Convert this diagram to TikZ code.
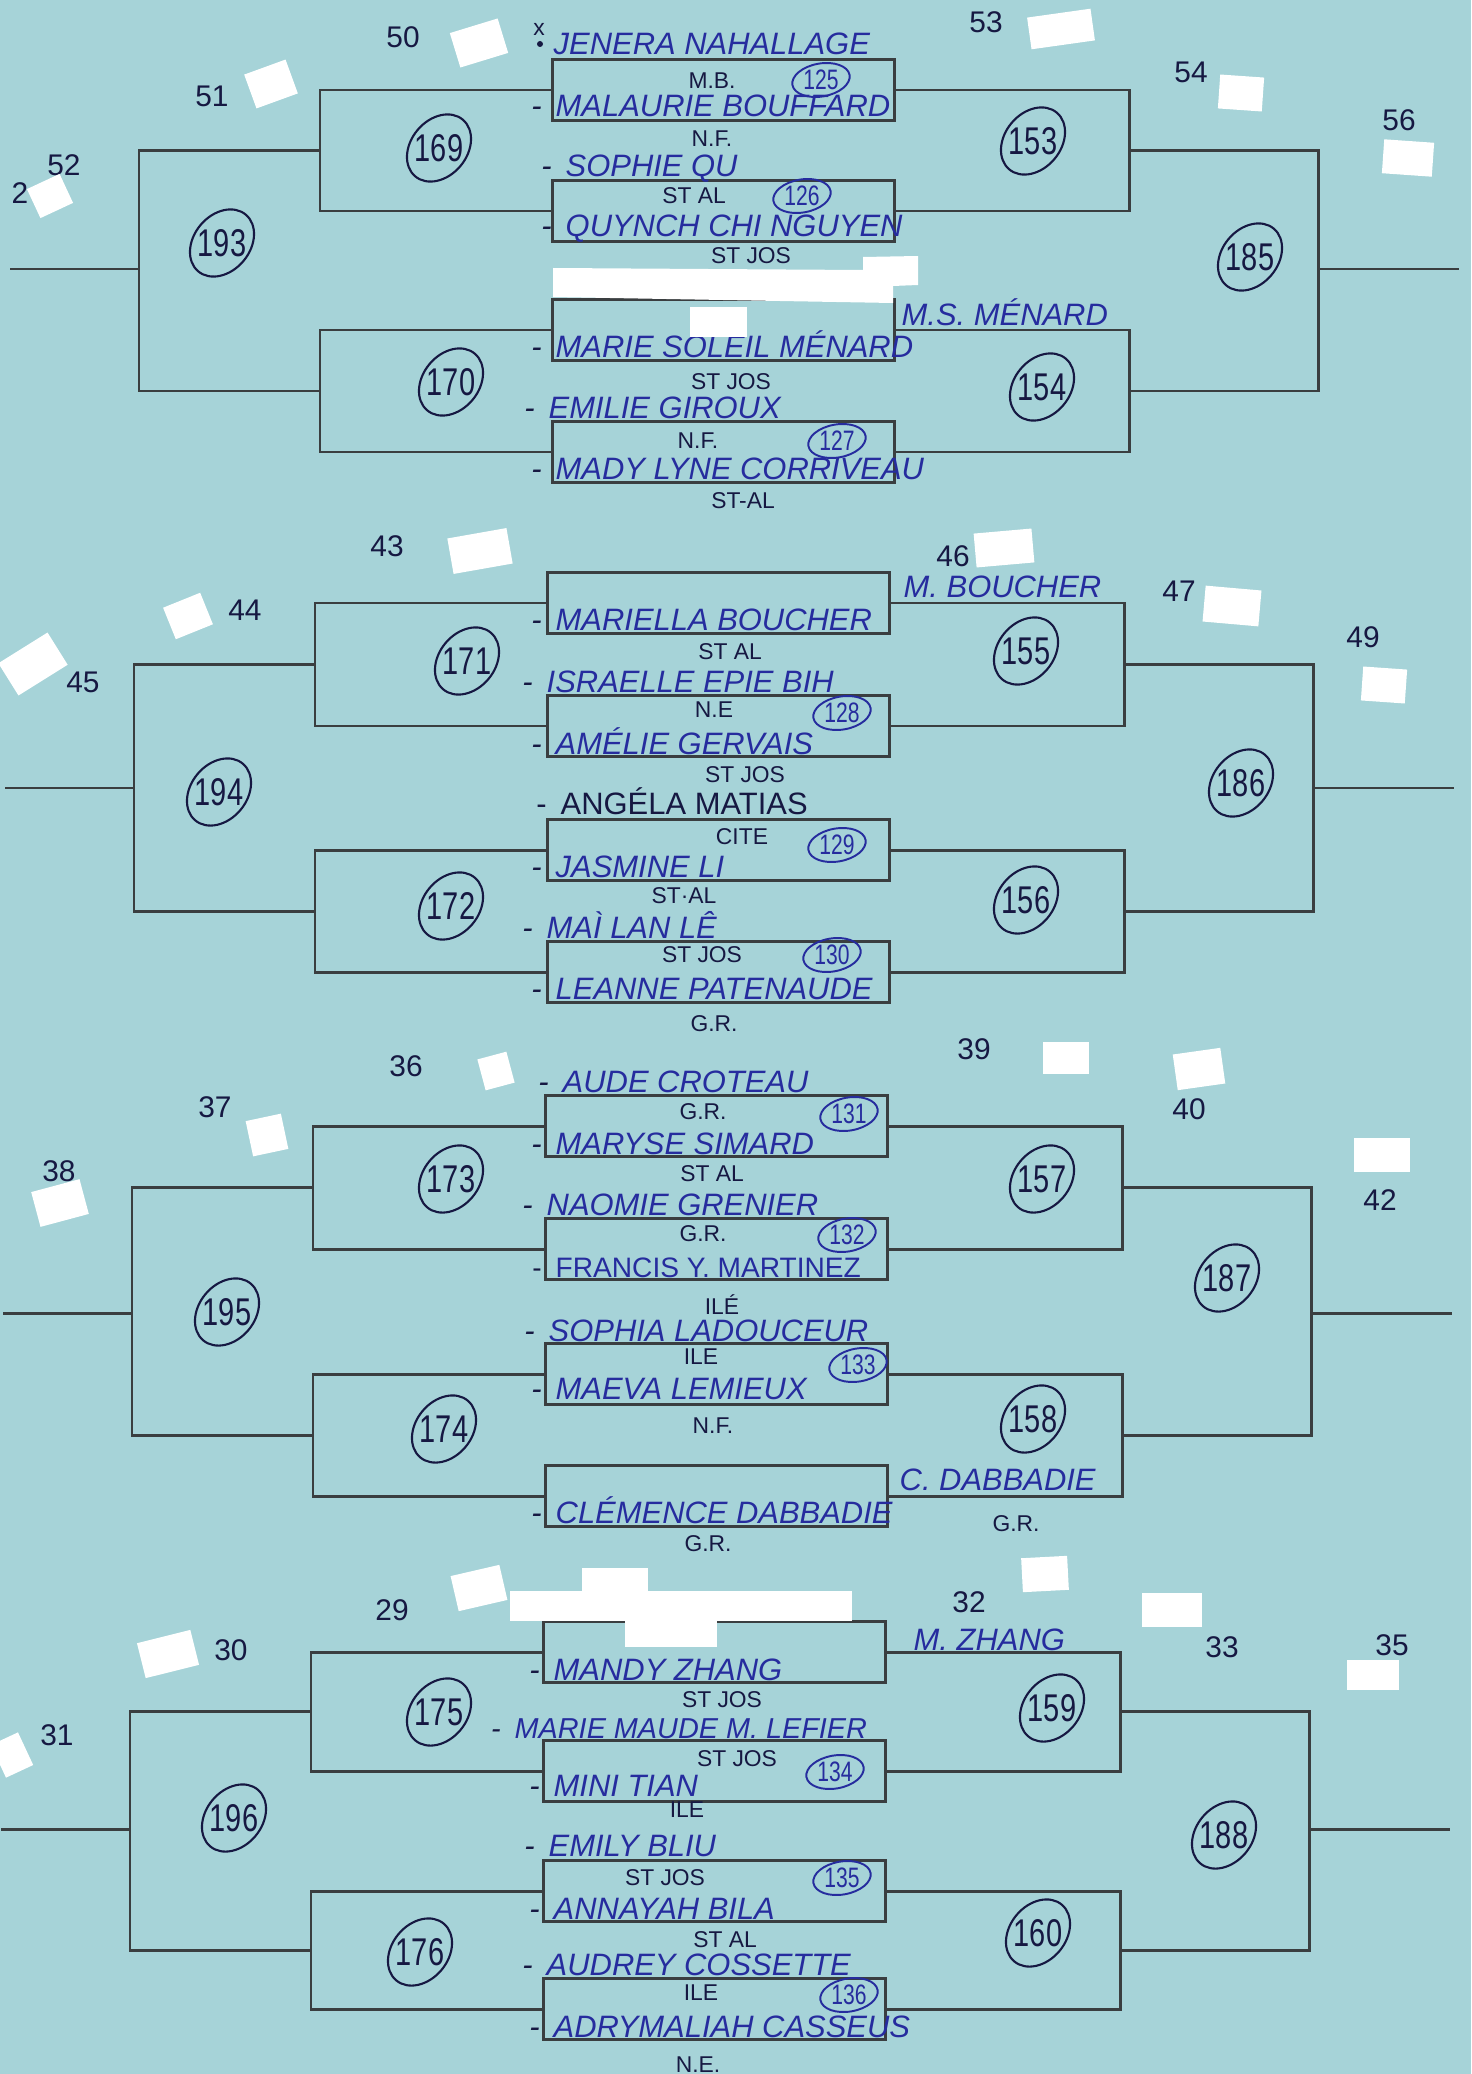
\documentclass[tikz,border=0pt]{standalone}
\usepackage{fontspec}
\usepackage{tikz}
\usetikzlibrary{shapes.geometric}
\newfontfamily\hand{Liberation Sans}
\newfontfamily\numfont[FakeStretch=0.75]{Liberation Sans}
\newcommand{\plfont}{\hand\fontsize{8.8}{9}\selectfont}
\definecolor{paper}{RGB}{166,211,216}
\definecolor{rulegray}{RGB}{58,62,64}
\definecolor{inkblue}{RGB}{38,44,158}
\definecolor{inkdark}{RGB}{22,24,66}

\begin{document}
\begin{tikzpicture}[x=0.1mm,y=-0.1mm,
  rule/.style={draw=rulegray,line width=0.85pt},
  matchbox/.style={rule,rectangle,minimum width=34.2mm,minimum height=6.1mm,inner sep=0pt},
  player/.style={anchor=base west,inner sep=0pt,text=inkblue,font=\plfont\itshape},
  entry/.style={player,execute at begin node={\llap{\textcolor{inkdark}{-}\hspace{1.4mm}}}},
  club/.style={inner sep=0pt,text=inkdark,font=\hand\fontsize{6.5}{6.5}\selectfont},
  seed/.style={inner sep=0pt,text=inkdark,font=\hand\fontsize{8.5}{8.5}\selectfont},
  bigc/.style={ellipse,draw=inkdark,line width=0.6pt,minimum width=7.4mm,minimum height=5.6mm,
    inner sep=0pt,rotate=50,label={[text=inkdark,font=\numfont\fontsize{11}{11}\selectfont]center:#1}},
  smallc/.style={ellipse,draw=inkblue,line width=0.55pt,minimum width=5.8mm,minimum height=3.3mm,
    inner sep=0pt,rotate=10,label={[text=inkblue,font=\numfont\fontsize{8}{8}\selectfont]center:#1}},
  patch/.style={fill=white,inner sep=0pt}]

  % paper
  \fill[paper] (0,0) rectangle (1471,2074);
  \useasboundingbox (0,0) rectangle (1471,2074);

  % brackets, four blocks
  \foreach \k/\dx/\ya/\yb/\yc/\yd/\ym in {1/0/90/211/330/452/269,
      2/-5/603/726/850/972/788, 3/-7/1126/1249/1374/1496/1313,
      4/-9/1652/1771/1891/2009/1829}{
    \foreach \j/\yy in {1/\ya,2/\yb,3/\yc,4/\yd}
      \node[matchbox] (m\k-\j) at ({723+\dx},\yy) {};
    \coordinate (la\k) at ({320+\dx},{(\ya+\yb)/2});
    \coordinate (lb\k) at ({320+\dx},{(\yc+\yd)/2});
    \coordinate (lc\k) at ({139+\dx},\ym);
    \coordinate (le\k) at ({10+\dx},\ym);
    \coordinate (ra\k) at ({1129+\dx},{(\ya+\yb)/2});
    \coordinate (rb\k) at ({1129+\dx},{(\yc+\yd)/2});
    \coordinate (rc\k) at ({1318+\dx},\ym);
    \coordinate (re\k) at ({1459+\dx},\ym);
    \draw[rule] (m\k-1.west) -| (la\k) |- (m\k-2.west);
    \draw[rule] (m\k-3.west) -| (lb\k) |- (m\k-4.west);
    \draw[rule] (la\k) -| (lc\k) |- (lb\k);
    \draw[rule] (lc\k) -- (le\k);
    \draw[rule] (m\k-1.east) -| (ra\k) |- (m\k-2.east);
    \draw[rule] (m\k-3.east) -| (rb\k) |- (m\k-4.east);
    \draw[rule] (ra\k) -| (rc\k) |- (rb\k);
    \draw[rule] (rc\k) -- (re\k);
  }

  % seed numbers
  \foreach \s/\x/\y in {50/403/37, 51/212/96, 52/64/165, 2/20/193, 53/986/22,
      54/1191/72, 56/1399/120, 43/387/546, 44/245/610, 45/83/682, 46/953/556,
      47/1179/591, 49/1363/637, 36/406/1066, 37/215/1107, 38/59/1171,
      39/974/1049, 40/1189/1109, 42/1380/1200, 29/392/1610, 30/231/1650,
      31/57/1735, 32/969/1602, 33/1222/1647, 35/1392/1645}
    \node[seed] (s\s) at (\x,\y) {\s};

  % players, block 1
  \node[club] (xmk) at (539,29) {x};
  \fill[inkdark] (540,44) circle (3);
  \node[player] (p1) at (553,55) {JENERA NAHALLAGE};
  \node[entry] (p2) at (555,117) {MALAURIE BOUFFARD};
  \node[entry] (p3) at (565,177) {SOPHIE QU};
  \node[entry] (p4) at (565,237) {QUYNCH CHI NGUYEN};
  \node[entry] (p5) at (555,358) {MARIE SOLEIL MÉNARD};
  \node[entry] (p6) at (548,419) {EMILIE GIROUX};
  \node[entry] (p7) at (555,479) {MADY LYNE CORRIVEAU};
  \node[player] (w1) at (901,326) {M.S. MÉNARD};
  % players, block 2
  \node[entry] (p8) at (555,630) {MARIELLA BOUCHER};
  \node[entry] (p9) at (546,692) {ISRAELLE EPIE BIH};
  \node[entry] (p10) at (555,754) {AMÉLIE GERVAIS};
  \node[entry,font=\plfont,text=inkdark] (p11) at (560,814) {ANGÉLA MATIAS};
  \node[entry] (p12) at (555,877) {JASMINE LI};
  \node[entry] (p13) at (546,938) {MAÌ LAN LÊ};
  \node[entry] (p14) at (555,999) {LEANNE PATENAUDE};
  \node[player] (w2) at (903,597) {M. BOUCHER};
  % players, block 3
  \node[entry] (p15) at (562,1092) {AUDE CROTEAU};
  \node[entry] (p16) at (555,1154) {MARYSE SIMARD};
  \node[entry] (p17) at (546,1215) {NAOMIE GRENIER};
  \node[entry,font=\hand\fontsize{8}{8}\selectfont] (p18) at (555,1277) {FRANCIS Y. MARTINEZ};
  \node[entry] (p19) at (548,1341) {SOPHIA LADOUCEUR};
  \node[entry] (p20) at (555,1399) {MAEVA LEMIEUX};
  \node[entry] (p21) at (555,1523) {CLÉMENCE DABBADIE};
  \node[player] (w3) at (899,1490) {C. DABBADIE};
  % players, block 4
  \node[entry] (p22) at (553,1680) {MANDY ZHANG};
  \node[entry,font=\hand\itshape\fontsize{8.2}{8.2}\selectfont] (p23) at (514,1738) {MARIE MAUDE M. LEFIER};
  \node[entry] (p24) at (553,1796) {MINI TIAN};
  \node[entry] (p25) at (548,1856) {EMILY BLIU};
  \node[entry] (p26) at (553,1919) {ANNAYAH BILA};
  \node[entry] (p27) at (546,1975) {AUDREY COSSETTE};
  \node[entry] (p28) at (553,2037) {ADRYMALIAH CASSEUS};
  \node[player] (w4) at (913,1650) {M. ZHANG};

  % schools
  \foreach \t/\x/\y [count=\i] in {M.B./712/81, N.F./712/139, ST AL/694/196,
      ST JOS/751/256, ST JOS/731/382, N.F./698/441, ST-AL/743/501,
      ST AL/730/652, N.E/714/710, ST JOS/745/775, CITE/742/837, ST·AL/684/896,
      ST JOS/702/955, G.R./714/1024, G.R./703/1112, ST AL/712/1174,
      G.R./703/1234, ILÉ/722/1305, ILE/701/1357, N.F./713/1426, G.R./708/1544,
      G.R./1016/1524, ST JOS/722/1700, ST JOS/737/1759, ILE/687/1810,
      ST JOS/665/1878, ST AL/725/1940, ILE/701/1993, N.E./698/2065}
    \node[club] (k\i) at (\x,\y) {\t};

  % first round numbers
  \foreach \n/\x/\y in {125/821/80, 126/802/196, 127/837/441, 128/842/713,
      129/837/845, 130/832/955, 131/849/1114, 132/847/1235, 133/858/1365,
      134/835/1772, 135/842/1878, 136/849/1995}
    \node[smallc=\n] (c\n) at (\x,\y) {};
  % later round numbers
  \foreach \n/\x/\y in {169/439/148, 193/222/243, 170/451/382, 153/1033/141,
      185/1250/257, 154/1042/387, 171/467/661, 194/219/792, 172/451/906,
      155/1026/651, 186/1241/783, 156/1026/900, 173/451/1179, 195/227/1312,
      174/444/1429, 157/1042/1179, 187/1227/1278, 158/1033/1419, 175/439/1712,
      196/234/1818, 176/420/1952, 159/1052/1708, 188/1224/1835, 160/1038/1933}
    \node[bigc=\n] (c\n) at (\x,\y) {};

  % white patches
  \foreach \px/\py/\pw/\ph/\pa in {479/43/50/36/17, 271/84/44/36/20, 50/196/36/32/25,
      1061/29/64/32/8, 1241/93/44/34/-4, 1408/158/50/34/-4, 718/322/57/30/0,
      480/551/60/36/10, 188/616/40/34/22, 33/664/58/38/32, 1004/548/58/34/5,
      1232/606/56/36/-5, 1384/685/44/34/-4, 496/1071/30/32/15, 267/1135/36/36/12,
      60/1203/50/36/15, 1066/1058/46/32/0, 1199/1069/48/36/8, 1382/1155/56/34/0,
      479/1588/50/36/13, 168/1654/55/36/14, 12/1755/30/36/25, 1045/1574/46/34/3,
      1172/1610/60/34/0, 1373/1675/52/30/0}
    \node[patch,rotate=\pa,minimum width=\pw*0.1mm,minimum height=\ph*0.1mm] at (\px,\py) {};
  \fill[white] (553,268) -- (863,270) -- (863,257) -- (918,256) -- (918,285)
    -- (893,286) -- (893,303) -- (553,297) -- cycle;
  \fill[white] (510,1591) rectangle (852,1621);
  \fill[white] (582,1568) rectangle (648,1592);
  \fill[white] (625,1620) rectangle (717,1647);
\end{tikzpicture}
\end{document}
